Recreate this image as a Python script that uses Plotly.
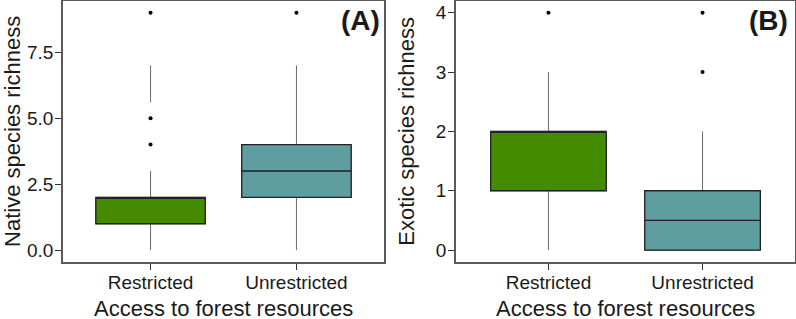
import plotly.graph_objects as go

# ---------------- data ----------------
categories = ["Restricted", "Unrestricted"]

# Panel A: native species richness
native_q1 = [1, 2]
native_median = [2, 3]
native_q3 = [2, 4]
native_lower = [0, 0]
native_upper = [3, 7]
native_outliers_restricted = [4, 5, 9]
native_outliers_unrestricted = [9]
native_extra_segment_restricted = [5.6, 7]

# Panel B: exotic species richness
exotic_q1 = [1, 0]
exotic_median = [2, 0.5]
exotic_q3 = [2, 1]
exotic_lower = [0, 0]
exotic_upper = [3, 2]
exotic_outliers_restricted = [4]
exotic_outliers_unrestricted = [3, 4]

y_ticks_a = [0, 2.5, 5.0, 7.5]
y_tick_labels_a = ["0.0", "2.5", "5.0", "7.5"]
y_ticks_b = [0, 1, 2, 3, 4]
y_tick_labels_b = ["0", "1", "2", "3", "4"]

fill_colors = ["#458B00", "#5F9EA0"]
FONT = "Liberation Sans, Arial, sans-serif"
TXT = "#1a1a1a"

fig = go.Figure()


def add_panel(xa, ya, q1, med, q3, lo, hi, outliers):
    for i, cat in enumerate(categories):
        # whiskers (grey)
        fig.add_trace(go.Box(
            x=[cat], q1=[q1[i]], median=[med[i]], q3=[q3[i]],
            lowerfence=[lo[i]], upperfence=[hi[i]],
            xaxis=xa, yaxis=ya, width=0.75, whiskerwidth=0,
            line=dict(color="#6b6b6b", width=1),
            fillcolor="rgba(0,0,0,0)", boxpoints=False,
            showlegend=False, hoverinfo="skip"))
        # box body
        fig.add_trace(go.Box(
            x=[cat], q1=[q1[i]], median=[med[i]], q3=[q3[i]],
            lowerfence=[q1[i]], upperfence=[q3[i]],
            xaxis=xa, yaxis=ya, width=0.75, whiskerwidth=0,
            line=dict(color="#222222", width=1.3),
            fillcolor=fill_colors[i], boxpoints=False,
            showlegend=False))
        fig.add_trace(go.Scatter(
            x=[cat] * len(outliers[i]), y=outliers[i], mode="markers",
            marker=dict(color="black", size=4),
            xaxis=xa, yaxis=ya, showlegend=False))


add_panel("x", "y", native_q1, native_median, native_q3, native_lower,
          native_upper, [native_outliers_restricted, native_outliers_unrestricted])
fig.add_trace(go.Scatter(
    x=[categories[0]] * 2, y=native_extra_segment_restricted, mode="lines",
    line=dict(color="#6b6b6b", width=1), xaxis="x", yaxis="y", showlegend=False))
add_panel("x2", "y2", exotic_q1, exotic_median, exotic_q3, exotic_lower,
          exotic_upper, [exotic_outliers_restricted, exotic_outliers_unrestricted])

W, H = 796, 319
ybot = 1 - 262 / H
ytop = 1 - 0.8 / H

axis_common = dict(showline=True, mirror=True, linecolor="#5a5a5a", linewidth=1.5,
                   showgrid=False, zeroline=False, ticks="outside", ticklen=6,
                   tickcolor="#333333", tickwidth=1, automargin=False,
                   tickfont=dict(family=FONT, size=19, color=TXT))

fig.update_layout(
    width=W, height=H, margin=dict(l=0, r=0, t=0, b=0, autoexpand=False),
    paper_bgcolor="white", plot_bgcolor="white", boxmode="overlay",
    font=dict(family=FONT),
    xaxis=dict(axis_common, domain=[63 / W, 384 / W], type="category",
               categoryorder="array", categoryarray=categories, range=[-0.6, 1.6],
               anchor="y", ticklabelstandoff=-4),
    yaxis=dict(axis_common, domain=[ybot, ytop], range=[-0.45, 9.45], anchor="x",
               tickvals=y_ticks_a, ticktext=y_tick_labels_a, ticklabelstandoff=-2,
               title=dict(text="Native species richness",
                          font=dict(family=FONT, size=22, color=TXT))),
    xaxis2=dict(axis_common, domain=[456 / W, 795 / W], type="category",
                categoryorder="array", categoryarray=categories, range=[-0.6, 1.6],
                anchor="y2", ticklabelstandoff=-4),
    yaxis2=dict(axis_common, domain=[ybot, ytop], range=[-0.2, 4.2], anchor="x2",
                tickvals=y_ticks_b, ticktext=y_tick_labels_b, ticklabelstandoff=-2,
                title=dict(text="Exotic species richness",
                           font=dict(family=FONT, size=22, color=TXT))),
    annotations=[
        dict(text="Access to forest resources", xref="x domain", yref="paper",
             x=0.5, y=1 - 308 / H, xanchor="center", yanchor="middle",
             showarrow=False, font=dict(family=FONT, size=22, color=TXT)),
        dict(text="Access to forest resources", xref="x2 domain", yref="paper",
             x=0.5, y=1 - 308 / H, xanchor="center", yanchor="middle",
             showarrow=False, font=dict(family=FONT, size=22, color=TXT)),
        dict(text="<b>(A)</b>", xref="x domain", yref="y domain", x=0.994, y=0.99,
             xanchor="right", yanchor="top", showarrow=False,
             font=dict(family=FONT, size=28, color=TXT)),
        dict(text="<b>(B)</b>", xref="x2 domain", yref="y2 domain", x=0.985, y=0.99,
             xanchor="right", yanchor="top", showarrow=False,
             font=dict(family=FONT, size=28, color=TXT)),
    ],
)

fig.write_html("out.html", config={"displayModeBar": False},
               post_script="document.body.style.margin='0';document.body.style.overflow='hidden';")
